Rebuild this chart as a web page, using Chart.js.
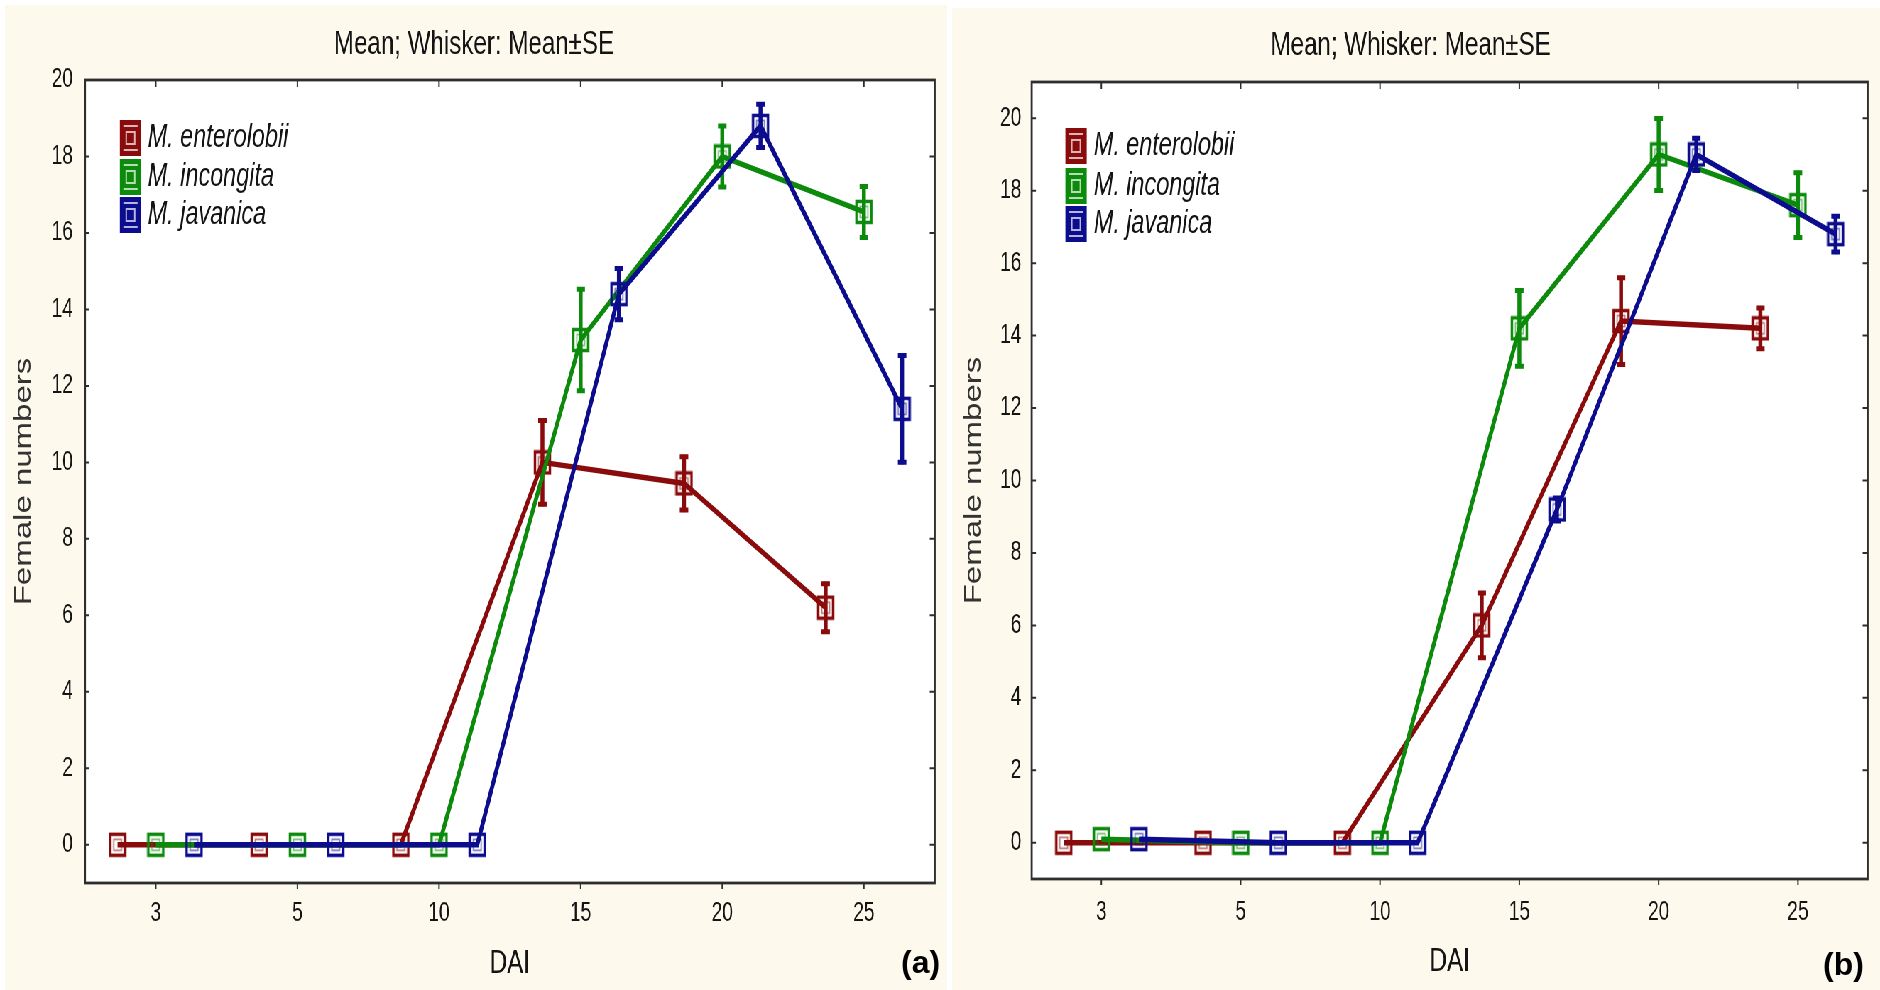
<!DOCTYPE html>
<html>
<head>
<meta charset="utf-8">
<title>Female numbers by DAI</title>
<script src="https://cdn.jsdelivr.net/npm/chart.js@4.4.1/dist/chart.umd.min.js"></script>
<style>
  html, body { margin: 0; padding: 0; background: #fff; overflow: hidden; width: 1880px; height: 990px; }
  /* the plots are laid out wide and narrowed horizontally, like the exported figure */
  #stage { position: absolute; left: 0; top: 0; width: 2648px; height: 990px; transform: scaleX(0.71); transform-origin: 0 0; }
  #stage canvas { position: absolute; }
  #chartA { left: 7px; top: 5px; }
  #chartB { left: 1341px; top: 8px; }
  .tag { position: absolute; font: bold 32px "Liberation Sans", Arial, sans-serif; line-height: 32px; color: #000; }
</style>
</head>
<body>
<div id="stage">
  <canvas id="chartA" width="1327" height="985"></canvas>
  <canvas id="chartB" width="1307" height="982"></canvas>
</div>
<div class="tag" style="left:901px;top:946px">(a)</div>
<div class="tag" style="left:1823px;top:948px">(b)</div>
<script>
// days after inoculation
const DAI = ["3", "5", "10", "15", "20", "25"];
const Y_TICKS = [0, 2, 4, 6, 8, 10, 12, 14, 16, 18, 20];
const SPECIES = ["M. enterolobii", "M. incongita", "M. javanica"];

// (a) means and standard errors
const entA = [0, 0, 0, 10.0, 9.45, 6.2];
const entA_se = [0, 0, 0, 1.15, 0.75, 0.68];
const incA = [0, 0, 0, 13.2, 18.0, 16.55];
const incA_se = [0, 0, 0, 1.38, 0.85, 0.72];
const javA = [0, 0, 0, 14.4, 18.8, 11.4];
const javA_se = [0, 0, 0, 0.72, 0.62, 1.45];

// (b) means and standard errors
const entB = [0, 0, 0, 6.0, 14.4, 14.2];
const entB_se = [0, 0, 0, 0.95, 1.25, 0.62];
const incB = [0.1, 0, 0, 14.2, 19.0, 17.6];
const incB_se = [0, 0, 0, 1.1, 1.05, 0.95];
const javB = [0.1, 0, 0, 9.2, 19.0, 16.8];
const javB_se = [0, 0, 0, 0.37, 0.5, 0.55];

const COLORS = ["#8a0b0b", "#0c8a0c", "#0c0c8e"];
const X_SHIFT = [-0.27, 0, 0.27];
const FONT = "'Liberation Sans', Arial, sans-serif";
const INK = "#141414";
const CREAM = "#fef9ed";

function squareMarker(color) {
  const c = document.createElement("canvas");
  c.width = 26;
  c.height = 26;
  const g = c.getContext("2d");
  g.strokeStyle = color;
  g.lineWidth = 3.5;
  g.strokeRect(2.5, 2.5, 21, 21);
  g.globalAlpha = 0.55;
  g.lineWidth = 1.8;
  g.strokeRect(7.5, 7.5, 11, 11);
  return c;
}

function series(values, k) {
  return values.map((v, i) => ({ x: i + X_SHIFT[k], y: v }));
}

// white plot area, frame and inward tick marks
const frame = {
  id: "frame",
  beforeDraw(chart) {
    const { ctx, chartArea: a, width, height } = chart;
    ctx.save();
    ctx.fillStyle = CREAM;
    ctx.fillRect(0, 0, width, height);
    ctx.fillStyle = "#fff";
    ctx.fillRect(a.left, a.top, a.right - a.left, a.bottom - a.top);
    ctx.restore();
  },
  afterDraw(chart) {
    const { ctx, chartArea: a } = chart;
    const x = chart.scales.x, y = chart.scales.y;
    ctx.save();
    ctx.strokeStyle = "#2e2e2e";
    ctx.lineWidth = 2.8;
    ctx.strokeRect(a.left, a.top, a.right - a.left, a.bottom - a.top);
    ctx.lineWidth = 2;
    ctx.beginPath();
    x.ticks.forEach((t) => {
      const px = x.getPixelForValue(t.value);
      ctx.moveTo(px, a.top);
      ctx.lineTo(px, a.top + 7);
      ctx.moveTo(px, a.bottom);
      ctx.lineTo(px, a.bottom + 6);
    });
    y.ticks.forEach((t) => {
      const py = y.getPixelForValue(t.value);
      ctx.moveTo(a.left, py);
      ctx.lineTo(a.left + 6, py);
      ctx.moveTo(a.right, py);
      ctx.lineTo(a.right - 7, py);
    });
    ctx.stroke();
    ctx.restore();
  },
};

// mean ± SE whiskers, drawn with each dataset
const whiskers = {
  id: "whiskers",
  afterDatasetDraw(chart, args) {
    const ds = chart.data.datasets[args.index];
    if (!ds.se) return;
    const ctx = chart.ctx;
    const y = chart.scales.y;
    ctx.save();
    ctx.strokeStyle = ds.borderColor;
    args.meta.data.forEach((pt, i) => {
      const se = ds.se[i];
      if (!se) return;
      const v = ds.data[i].y;
      const top = y.getPixelForValue(v + se);
      const bot = y.getPixelForValue(v - se);
      ctx.lineWidth = 5.5;
      ctx.beginPath();
      ctx.moveTo(pt.x, top);
      ctx.lineTo(pt.x, bot);
      ctx.stroke();
      ctx.lineWidth = 5;
      ctx.beginPath();
      ctx.moveTo(pt.x - 6, top + 2);
      ctx.lineTo(pt.x + 6, top + 2);
      ctx.moveTo(pt.x - 6, bot - 2);
      ctx.lineTo(pt.x + 6, bot - 2);
      ctx.stroke();
    });
    ctx.restore();
  },
};

// legend box inside the plot, top left
const keyBox = {
  id: "keyBox",
  afterDraw(chart, args, opts) {
    const ctx = chart.ctx;
    ctx.save();
    chart.data.datasets.forEach((ds, i) => {
      const cx = opts.iconX, cy = opts.rows[i];
      ctx.fillStyle = ds.borderColor;
      ctx.fillRect(cx - 15, cy - 18, 30, 36);
      ctx.strokeStyle = "rgba(255,255,255,0.7)";
      ctx.lineWidth = 2;
      ctx.strokeRect(cx - 6, cy - 6, 12, 12);
      ctx.beginPath();
      ctx.moveTo(cx - 10, cy - 12);
      ctx.lineTo(cx + 10, cy - 12);
      ctx.moveTo(cx - 10, cy + 12);
      ctx.lineTo(cx + 10, cy + 12);
      ctx.stroke();
      ctx.fillStyle = INK;
      ctx.font = "italic 33px " + FONT;
      ctx.textBaseline = "middle";
      ctx.fillText(ds.label, opts.textX, cy);
    });
    ctx.restore();
  },
};

function buildPanel(id, sets, p) {
  const datasets = sets.map((s, k) => ({
    label: SPECIES[k],
    data: series(s.mean, k),
    se: s.se,
    borderColor: COLORS[k],
    backgroundColor: COLORS[k],
    borderWidth: 5.5,
    pointStyle: squareMarker(COLORS[k]),
    pointRadius: 12,
    tension: 0,
    fill: false,
    clip: false,
    order: 3 - k,
  }));

  return new Chart(document.getElementById(id), {
    type: "line",
    data: { datasets: datasets },
    plugins: [frame, whiskers, keyBox],
    options: {
      responsive: false,
      devicePixelRatio: 1,
      animation: false,
      layout: { padding: { left: 0, right: p.padR, top: 0, bottom: 0 } },
      plugins: {
        legend: { display: false },
        tooltip: { enabled: false },
        title: {
          display: true,
          text: "Mean; Whisker: Mean±SE",
          color: INK,
          font: { size: 34, family: FONT, weight: "normal" },
          padding: { top: p.tPadT, bottom: p.tPadB },
        },
        keyBox: { iconX: p.iconX, textX: p.textX, rows: p.rows },
      },
      scales: {
        x: {
          type: "linear",
          min: -0.5,
          max: 5.5,
          afterBuildTicks: (s) => { s.ticks = DAI.map((_, i) => ({ value: i })); },
          afterFit: (s) => { s.height = p.xAxisH; },
          grid: { display: false, drawTicks: false },
          border: { display: false },
          ticks: {
            padding: p.xPad,
            color: INK,
            autoSkip: false,
            maxRotation: 0,
            font: { size: 27, family: FONT },
            callback: (v) => DAI[v],
          },
          title: {
            display: true,
            text: "DAI",
            color: INK,
            font: { size: 34, family: FONT },
            padding: { top: 0, bottom: p.xTitlePad },
          },
        },
        y: {
          type: "linear",
          min: -1,
          max: p.yMax,
          afterBuildTicks: (s) => { s.ticks = Y_TICKS.map((v) => ({ value: v })); },
          afterFit: (s) => { s.width = p.yAxisW; },
          grid: { display: false, drawTicks: false },
          border: { display: false },
          ticks: { padding: p.yPad, color: INK, font: { size: 27, family: FONT } },
          title: {
            display: true,
            text: "Female numbers",
            color: "#333",
            font: { size: 33, family: FONT },
            padding: { top: p.yTitlePad, bottom: 0 },
          },
        },
      },
    },
  });
}

buildPanel("chartA", [
  { mean: entA, se: entA_se },
  { mean: incA, se: incA_se },
  { mean: javA, se: javA_se },
], {
  yMax: 20, xAxisH: 107, yAxisW: 112.7, padR: 5.7,
  tPadT: 19.5, tPadB: 14.7, xPad: 14, xTitlePad: 5.5, yPad: 17, yTitlePad: 7,
  iconX: 176.8, textX: 201, rows: [133, 172, 210],
});

buildPanel("chartB", [
  { mean: entB, se: entB_se },
  { mean: incB, se: incB_se },
  { mean: javB, se: javB_se },
], {
  yMax: 21, xAxisH: 111, yAxisW: 112.1, padR: 15.5,
  tPadT: 17.5, tPadB: 15.7, xPad: 17, xTitlePad: 8, yPad: 14.5, yTitlePad: 11.4,
  iconX: 174.6, textX: 199.4, rows: [138, 178, 216],
});
</script>
</body>
</html>
